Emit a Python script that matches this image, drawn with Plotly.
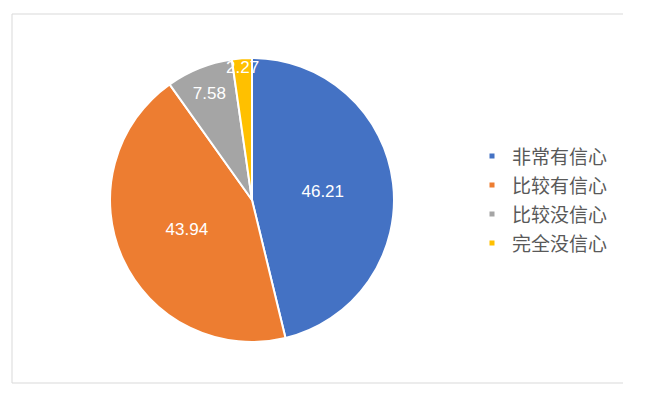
import plotly.graph_objects as go

categories = ["非常有信心", "比较有信心", "比较没信心", "完全没信心"]
values = [46.21, 43.94, 7.58, 2.27]
colors = ["#4472C4", "#ED7D31", "#A5A5A5", "#FFC000"]

W, H = 656, 397
OFF = 8  # page body margin offset
cx, cy, R = 252 - OFF, 200 - OFF, 142

fig = go.Figure()
fig.add_trace(go.Pie(
    labels=categories,
    values=values,
    sort=False,
    direction="clockwise",
    rotation=0,
    marker=dict(colors=colors, line=dict(color="white", width=2)),
    texttemplate="%{value}",
    textposition="inside",
    insidetextorientation="horizontal",
    textfont=dict(color="white", size=17, family="Liberation Sans, Arial, sans-serif"),
    showlegend=False,
    hoverinfo="label+value",
    domain=dict(x=[(cx - R) / W, (cx + R) / W], y=[1 - (cy + R) / H, 1 - (cy - R) / H]),
))

for name, col in zip(categories, colors):
    fig.add_trace(go.Scatter(
        x=[None], y=[None], mode="markers",
        marker=dict(symbol="square", size=5, color=col),
        name=f"<span style='font-size:19px'>{name}</span>",
        showlegend=True,
    ))

def px_x(v):
    return (v - OFF) / W

def px_y(v):
    return 1 - (v - OFF) / H

fig.update_layout(
    width=W, height=H,
    margin=dict(l=0, r=0, t=0, b=0),
    paper_bgcolor="white",
    plot_bgcolor="white",
    xaxis=dict(visible=False),
    yaxis=dict(visible=False),
    uniformtext=dict(minsize=17, mode="show"),
    legend=dict(
        x=px_x(472), xanchor="left",
        y=px_y(199.5), yanchor="middle",
        font=dict(size=20, color="#595959", family="Noto Sans CJK SC, sans-serif"),
        bgcolor="rgba(0,0,0,0)",
    ),
    shapes=[
        dict(type="line", xref="paper", yref="paper", x0=px_x(12), x1=px_x(623), y0=px_y(14), y1=px_y(14),
             line=dict(color="#d9d9d9", width=1)),
        dict(type="line", xref="paper", yref="paper", x0=px_x(12), x1=px_x(623), y0=px_y(383), y1=px_y(383),
             line=dict(color="#d9d9d9", width=1)),
        dict(type="line", xref="paper", yref="paper", x0=px_x(12), x1=px_x(12), y0=px_y(14), y1=px_y(383),
             line=dict(color="#d9d9d9", width=1)),
    ],
)

fig.write_html("out.html")
